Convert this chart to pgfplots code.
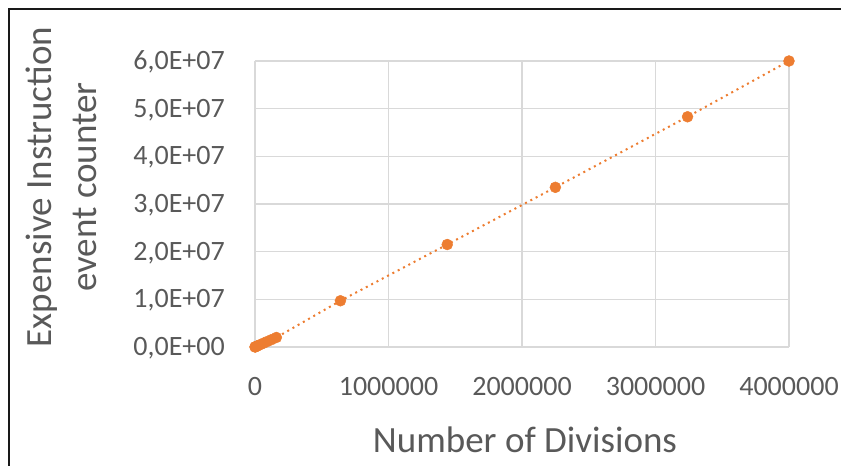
\documentclass[border=0pt]{standalone}
\usepackage{fontspec}
\setmainfont{Carlito}
\usepackage{pgfplots}
\pgfplotsset{compat=1.18}
\definecolor{txt}{HTML}{595959}
\definecolor{gridg}{HTML}{D9D9D9}
\definecolor{orng}{HTML}{ED7D31}
\pgfplotstableread{
x y
100 1500
2500 35000
10000 130000
22500 290000
40000 510000
62500 790000
90000 1130000
122500 1530000
160000 2000000
640000 9700000
1440000 21500000
2250000 33500000
3240000 48300000
4000000 60000000
}\datatab
\begin{document}
\begin{tikzpicture}
\useasboundingbox (-255pt,-119pt) rectangle (586pt,347pt);
\draw[line width=1.5pt, black!90] (-246pt,-119pt) -- (-246pt,338pt) -- (586pt,338pt);
\begin{axis}[
  at={(0pt,0pt)}, anchor=south west, scale only axis,
  width=534pt, height=286pt,
  xmin=0, xmax=4000000, ymin=0, ymax=60000000,
  clip=false, scaled ticks=false,
  xtick={0,1000000,2000000,3000000,4000000},
  xticklabels={0,1000000,2000000,3000000,4000000},
  ytick={0,10000000,20000000,30000000,40000000,50000000,60000000},
  yticklabels={{0,0E+00},{1,0E+07},{2,0E+07},{3,0E+07},{4,0E+07},{5,0E+07},{6,0E+07}},
  grid=major, major grid style={gridg, line width=1.2pt},
  axis line style={draw=none}, major tick length=0pt,
  tick label style={font=\fontsize{28}{33}\selectfont, text=txt},
  xticklabel style={anchor=base, inner sep=0pt, yshift=-48pt},
  yticklabel style={anchor=base east, inner sep=0pt, xshift=-30pt, yshift=-8.5pt},
]
\addplot[orng, line width=2pt, dash pattern=on 2pt off 4pt, no marks] table[x=x,y=y] {\datatab};
\addplot[only marks, mark=*, mark size=5.5pt, mark options={fill=orng, draw=orng}] table[x=x,y=y] {\datatab};
\end{axis}
\node[anchor=base, text=txt, font=\fontsize{37}{44}\selectfont, inner sep=0pt] at (270pt,-105pt) {Number of Divisions};
\node[rotate=90, anchor=base, text=txt, font=\fontsize{37}{44}\selectfont, inner sep=0pt] at (-203pt,160pt) {Expensive Instruction};
\node[rotate=90, anchor=base, text=txt, font=\fontsize{37}{44}\selectfont, inner sep=0pt] at (-158pt,160pt) {event counter};
\end{tikzpicture}
\end{document}
